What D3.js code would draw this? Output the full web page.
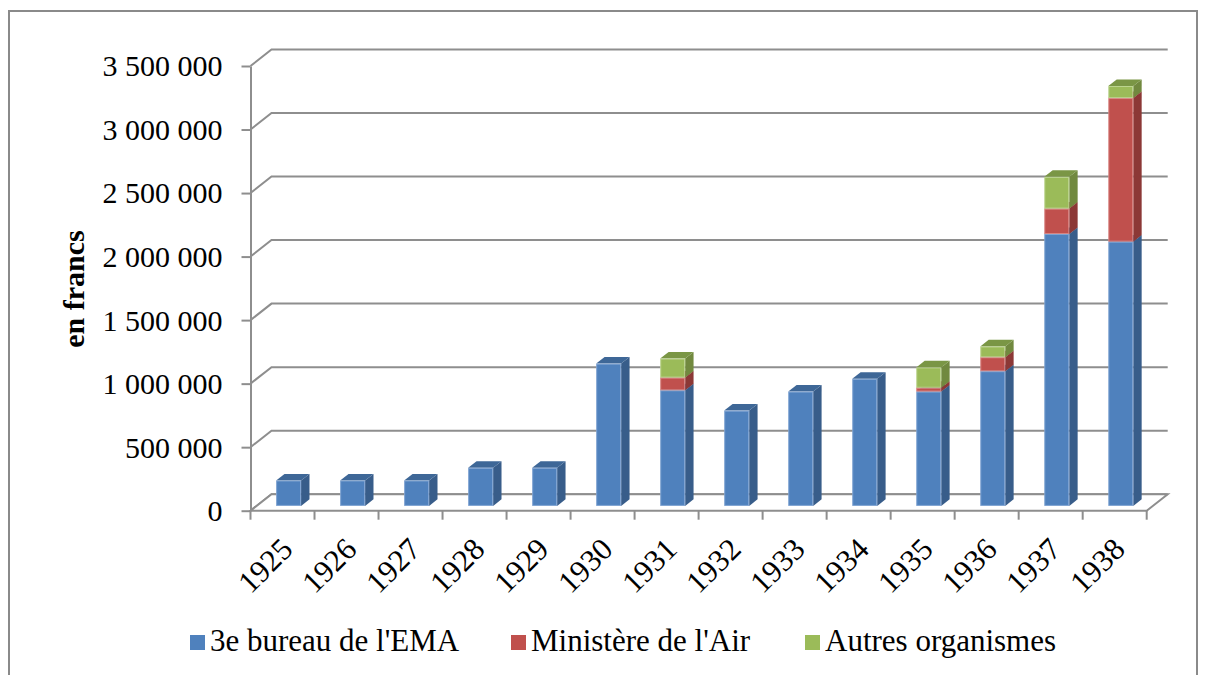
<!DOCTYPE html>
<html>
<head>
<meta charset="utf-8">
<script src="https://cdn.jsdelivr.net/npm/d3@7"></script>
<style>
body { margin: 0; background: #fff; }
text { font-family: "Liberation Serif", "Times New Roman", serif; fill: #000; }
</style>
</head>
<body>
<svg id="chart" width="1205" height="675"></svg>
<script>
// data
var years = ["1925", "1926", "1927", "1928", "1929", "1930", "1931", "1932", "1933", "1934", "1935", "1936", "1937", "1938"];
var ema = [200000, 200000, 200000, 300000, 300000, 1120000, 910000, 750000, 900000, 1000000, 900000, 1060000, 2140000, 2080000];
var air = [0, 0, 0, 0, 0, 0, 100000, 0, 0, 0, 30000, 110000, 200000, 1130000];
var autres = [0, 0, 0, 0, 0, 0, 150000, 0, 0, 0, 160000, 85000, 250000, 95000];
var seriesNames = ["3e bureau de l'EMA", "Ministère de l'Air", "Autres organismes"];
var yTicks = [0, 500000, 1000000, 1500000, 2000000, 2500000, 3000000, 3500000];

var colors = [
	{front: "#4f81bd", side: "#385d8a", top: "#3e6797", edge: "#7fa3d2"},
	{front: "#c0504d", side: "#8c3836", top: "#9e3f3c", edge: "#d88583"},
	{front: "#9bbb59", side: "#71893f", top: "#7a9645", edge: "#bcd48f"}
];

var svg = d3.select("#chart");

// depth of the 3d box
var DX = 21, DY = 16.5;
var z0 = 0.29, z1 = 0.69;

var x = d3.scaleBand()
	.domain(years)
	.range([250.5, 1146.7])
	.paddingInner(0.61)
	.paddingOuter(0.305);

var y = d3.scaleLinear()
	.domain([0, 3500000])
	.range([510.7, 66]);

var fr = d3.formatLocale({decimal: ",", thousands: " ", grouping: [3], currency: ["", ""]});
var fmt = fr.format(",");

var grid = "#8e8e8e";

// outer frame
svg.append("rect")
	.attr("x", 9).attr("y", 11)
	.attr("width", 1188).attr("height", 700)
	.attr("fill", "none")
	.attr("stroke", "#8a8a8a")
	.attr("stroke-width", 2);

var x0 = x.range()[0], x1 = x.range()[1];

// back wall gridlines and side wall diagonals
yTicks.forEach(function(v)
{
	svg.append("path")
		.attr("d", "M" + x0 + "," + y(v) + "L" + (x0 + DX) + "," + (y(v) - DY) + "L" + (x1 + DX) + "," + (y(v) - DY))
		.attr("fill", "none")
		.attr("stroke", grid)
		.attr("stroke-width", 2);
});

// floor
svg.append("path")
	.attr("d", "M" + x0 + "," + y(0) + "L" + x1 + "," + y(0) + "L" + (x1 + DX) + "," + (y(0) - DY) + "L" + (x0 + DX) + "," + (y(0) - DY) + "Z")
	.attr("fill", "#fff")
	.attr("stroke", grid)
	.attr("stroke-width", 2);

// y axis
var yAxis = svg.append("g")
	.attr("transform", "translate(" + x0 + ",0)")
	.call(d3.axisLeft(y).tickValues(yTicks).tickFormat(fmt).tickSize(9).tickSizeOuter(0).tickPadding(19));
yAxis.select(".domain").attr("stroke", grid).attr("stroke-width", 2);
yAxis.selectAll(".tick line").attr("stroke", grid).attr("stroke-width", 2);
yAxis.selectAll("text")
	.attr("font-size", 30)
	.attr("font-family", "Liberation Serif")
	.attr("fill", "#000")
	.attr("dy", "0.33em");

// category ticks at band edges
var step = x.step();
var edges = d3.range(years.length + 1).map(function(i) { return x0 + i * step; });
svg.selectAll(".xtick")
	.data(edges)
	.enter()
	.append("line")
	.attr("class", "xtick")
	.attr("x1", function(d) { return d; })
	.attr("x2", function(d) { return d; })
	.attr("y1", y(0))
	.attr("y2", y(0) + 9)
	.attr("stroke", grid)
	.attr("stroke-width", 2);

// year labels
svg.selectAll(".year")
	.data(years)
	.enter()
	.append("text")
	.attr("class", "year")
	.attr("font-size", 31)
	.attr("text-anchor", "end")
	.attr("transform", function(d)
	{
		return "translate(" + (x(d) + x.bandwidth() / 2 + 12) + "," + 551 + ") rotate(-45)";
	})
	.text(function(d) { return d; });

// stacked 3d bars
var table = years.map(function(yr, i)
{
	return {year: yr, s0: ema[i], s1: air[i], s2: autres[i]};
});
var stack = d3.stack().keys(["s0", "s1", "s2"])(table);

var w = x.bandwidth();
var ox = z0 * DX, oy = z0 * DY;
var dx = (z1 - z0) * DX, dy = (z1 - z0) * DY;

years.forEach(function(yr, i)
{
	stack.forEach(function(layer, k)
	{
		var seg = layer[i];
		if (seg[1] - seg[0] <= 0) return;
		var left = x(yr) + ox;
		var right = left + w;
		var bot = y(seg[0]) - oy;
		var top = y(seg[1]) - oy;
		var c = colors[k];
		var g = svg.append("g");
		// side face
		g.append("path")
			.attr("d", "M" + right + "," + bot + "L" + (right + dx) + "," + (bot - dy) + "L" + (right + dx) + "," + (top - dy) + "L" + right + "," + top + "Z")
			.attr("fill", c.side);
		// top face
		g.append("path")
			.attr("d", "M" + left + "," + top + "L" + right + "," + top + "L" + (right + dx) + "," + (top - dy) + "L" + (left + dx) + "," + (top - dy) + "Z")
			.attr("fill", c.top);
		// front face
		g.append("rect")
			.attr("x", left + 0.5)
			.attr("y", top + 0.5)
			.attr("width", w - 1)
			.attr("height", Math.max(0, bot - top - 1))
			.attr("fill", c.front)
			.attr("stroke", c.edge)
			.attr("stroke-width", 1);
	});
});

// axis title
svg.append("text")
	.attr("transform", "translate(84,289) rotate(-90)")
	.attr("text-anchor", "middle")
	.attr("font-size", 30)
	.attr("font-weight", "bold")
	.text("en francs");

// legend
var legendX = [190, 511, 805];
var legend = svg.selectAll(".legend")
	.data(seriesNames)
	.enter()
	.append("g")
	.attr("class", "legend")
	.attr("transform", function(d, i) { return "translate(" + legendX[i] + ",635)"; });

legend.append("rect")
	.attr("width", 15)
	.attr("height", 15)
	.attr("fill", function(d, i) { return colors[i].front; });

legend.append("text")
	.attr("x", 20)
	.attr("y", 16)
	.attr("font-size", 31)
	.text(function(d) { return d; });
</script>
</body>
</html>
